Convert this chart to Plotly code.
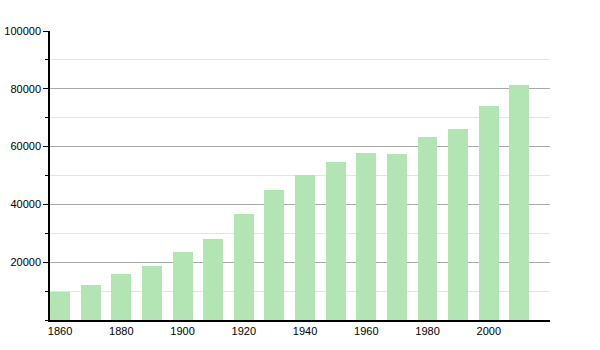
import plotly.graph_objects as go

years = [1860, 1870, 1880, 1890, 1900, 1910, 1920, 1930, 1940, 1950, 1960, 1970, 1980, 1990, 2000, 2010]
population = [9700, 12100, 15900, 18700, 23500, 28000, 36700, 45000, 50200, 54700, 57800, 57400, 63300, 66100, 74000, 81300]
x_ticks = [1860, 1880, 1900, 1920, 1940, 1960, 1980, 2000]
y_ticks = [20000, 40000, 60000, 80000, 100000]

fig = go.Figure(go.Bar(
    x=years, y=population, width=6.5,
    marker=dict(color="#b3e4b3", line=dict(width=0)),
    hoverinfo="x+y",
))

fig.update_layout(
    width=600, height=350,
    margin=dict(l=50, r=50, t=31, b=30),
    paper_bgcolor="white", plot_bgcolor="white",
    showlegend=False,
    font=dict(family="Liberation Sans, Arial, sans-serif", size=11, color="black"),
    bargap=0,
)
fig.update_xaxes(
    range=[1856.7, 2020], tickvals=x_ticks, ticktext=[str(v) for v in x_ticks],
    showline=True, linecolor="black", linewidth=1.5,
    showgrid=False, ticks="", zeroline=False, automargin=False,
)
fig.update_yaxes(
    range=[0, 100000], tickvals=y_ticks, ticktext=[str(v) for v in y_ticks],
    showline=True, linecolor="black", linewidth=1.5,
    ticks="outside", ticklen=5, tickcolor="black", automargin=False,
    showgrid=True, gridcolor="#a8a8a8", gridwidth=1, zeroline=False,
    minor=dict(dtick=10000, tick0=0, showgrid=True, gridcolor="#e4e4e4",
               ticks="outside", ticklen=3, tickcolor="black"),
)

fig.write_html("out.html")
